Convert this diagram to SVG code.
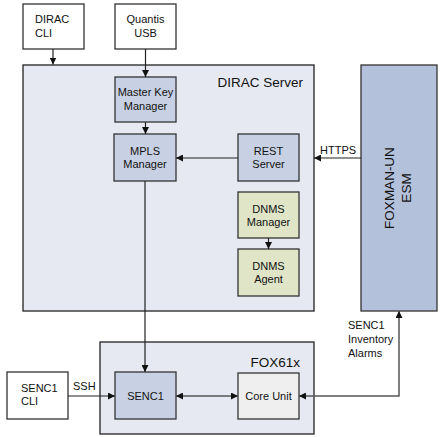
<svg xmlns="http://www.w3.org/2000/svg" width="441" height="437" viewBox="0 0 441 437">
<style>
text{font-family:"Liberation Sans",Arial,sans-serif;font-size:11px;fill:#111}
.big{font-size:13.5px}
.box{stroke:#333;stroke-width:1.3}
.w{fill:#fff}
.b{fill:#c8d1e3}
.g{fill:#dfe5c6}
.c{fill:#efefef}
.cont{fill:#e6e9f2;stroke:#222;stroke-width:1.3}
.ln{fill:none;stroke:#222;stroke-width:1.2}
.gl{fill:none;stroke:#555;stroke-width:1.5}
</style>
<defs>
<marker id="ah" viewBox="0 0 10 10" refX="10" refY="5" markerWidth="7" markerHeight="7" orient="auto-start-reverse" markerUnits="userSpaceOnUse">
<path d="M0,0 L10,5 L0,10 z" fill="#111"/>
</marker>
</defs>
<g id="dirac-server"><rect class="cont" x="23" y="65" width="291" height="246"/><text class="big" x="303" y="87" text-anchor="end">DIRAC Server</text></g>
<g id="foxman"><rect class="box" fill="#b4c1da" x="361" y="65" width="76" height="246"/><text class="big" transform="translate(394,188) rotate(-90)" text-anchor="middle">FOXMAN-UN</text><text class="big" transform="translate(411,188) rotate(-90)" text-anchor="middle">ESM</text></g>
<g id="fox61x"><rect class="cont" x="100" y="342" width="214" height="92"/><text class="big" x="300" y="367" text-anchor="end">FOX61x</text></g>
<g id="dirac-cli"><rect class="box w" x="23" y="4" width="61" height="45"/><text x="35" y="23">DIRAC</text><text x="35" y="37">CLI</text></g>
<g id="quantis"><rect class="box w" x="115" y="4" width="61" height="45"/><text x="145.5" y="23" text-anchor="middle">Quantis</text><text x="145.5" y="37" text-anchor="middle">USB</text></g>
<g id="master-key"><rect class="box b" x="115" y="77" width="61" height="45"/><text x="145.5" y="96" text-anchor="middle">Master Key</text><text x="145.5" y="110" text-anchor="middle">Manager</text></g>
<g id="mpls"><rect class="box b" x="114" y="134" width="62" height="47"/><text x="145" y="155" text-anchor="middle">MPLS</text><text x="145" y="168" text-anchor="middle">Manager</text></g>
<g id="rest"><rect class="box b" x="238" y="134" width="61" height="47"/><text x="268.5" y="155" text-anchor="middle">REST</text><text x="268.5" y="168" text-anchor="middle">Server</text></g>
<g id="dnms-manager"><rect class="box g" x="238" y="192" width="61" height="46"/><text x="268.5" y="213" text-anchor="middle">DNMS</text><text x="268.5" y="226" text-anchor="middle">Manager</text></g>
<g id="dnms-agent"><rect class="box g" x="238" y="249" width="61" height="47"/><text x="268.5" y="270" text-anchor="middle">DNMS</text><text x="268.5" y="283" text-anchor="middle">Agent</text></g>
<g id="senc1"><rect class="box b" x="115" y="372" width="61" height="47"/><text x="145.5" y="400" text-anchor="middle">SENC1</text></g>
<g id="core-unit"><rect class="box c" x="238" y="373" width="61" height="46"/><text x="268.5" y="400" text-anchor="middle">Core Unit</text></g>
<g id="senc1-cli"><rect class="box w" x="7" y="372" width="61" height="47"/><text x="21" y="392">SENC1</text><text x="21" y="405">CLI</text></g>
<g id="connectors">
<path class="ln" d="M53,49 V64.5" marker-end="url(#ah)"/>
<path class="ln" d="M145.5,49 V77" marker-end="url(#ah)"/>
<path class="ln" d="M145.5,122 V134" marker-end="url(#ah)"/>
<path class="ln" d="M238,158 H176" marker-end="url(#ah)"/>
<path class="ln" d="M361,158 H314" marker-end="url(#ah)"/>
<text x="320" y="154">HTTPS</text>
<path class="ln" d="M268.5,238 V249" marker-end="url(#ah)"/>
<path class="ln" d="M145,181 V372" marker-end="url(#ah)"/>
<path class="ln" d="M68,396 H115" marker-end="url(#ah)"/>
<text x="73" y="390">SSH</text>
<path class="gl" d="M176,396 H238" marker-start="url(#ah)" marker-end="url(#ah)"/>
<path class="gl" d="M299,396 H399 V311" marker-start="url(#ah)" marker-end="url(#ah)"/>
<text x="348" y="329">SENC1</text><text x="348" y="343">Inventory</text><text x="348" y="357">Alarms</text>
</g>
</svg>
